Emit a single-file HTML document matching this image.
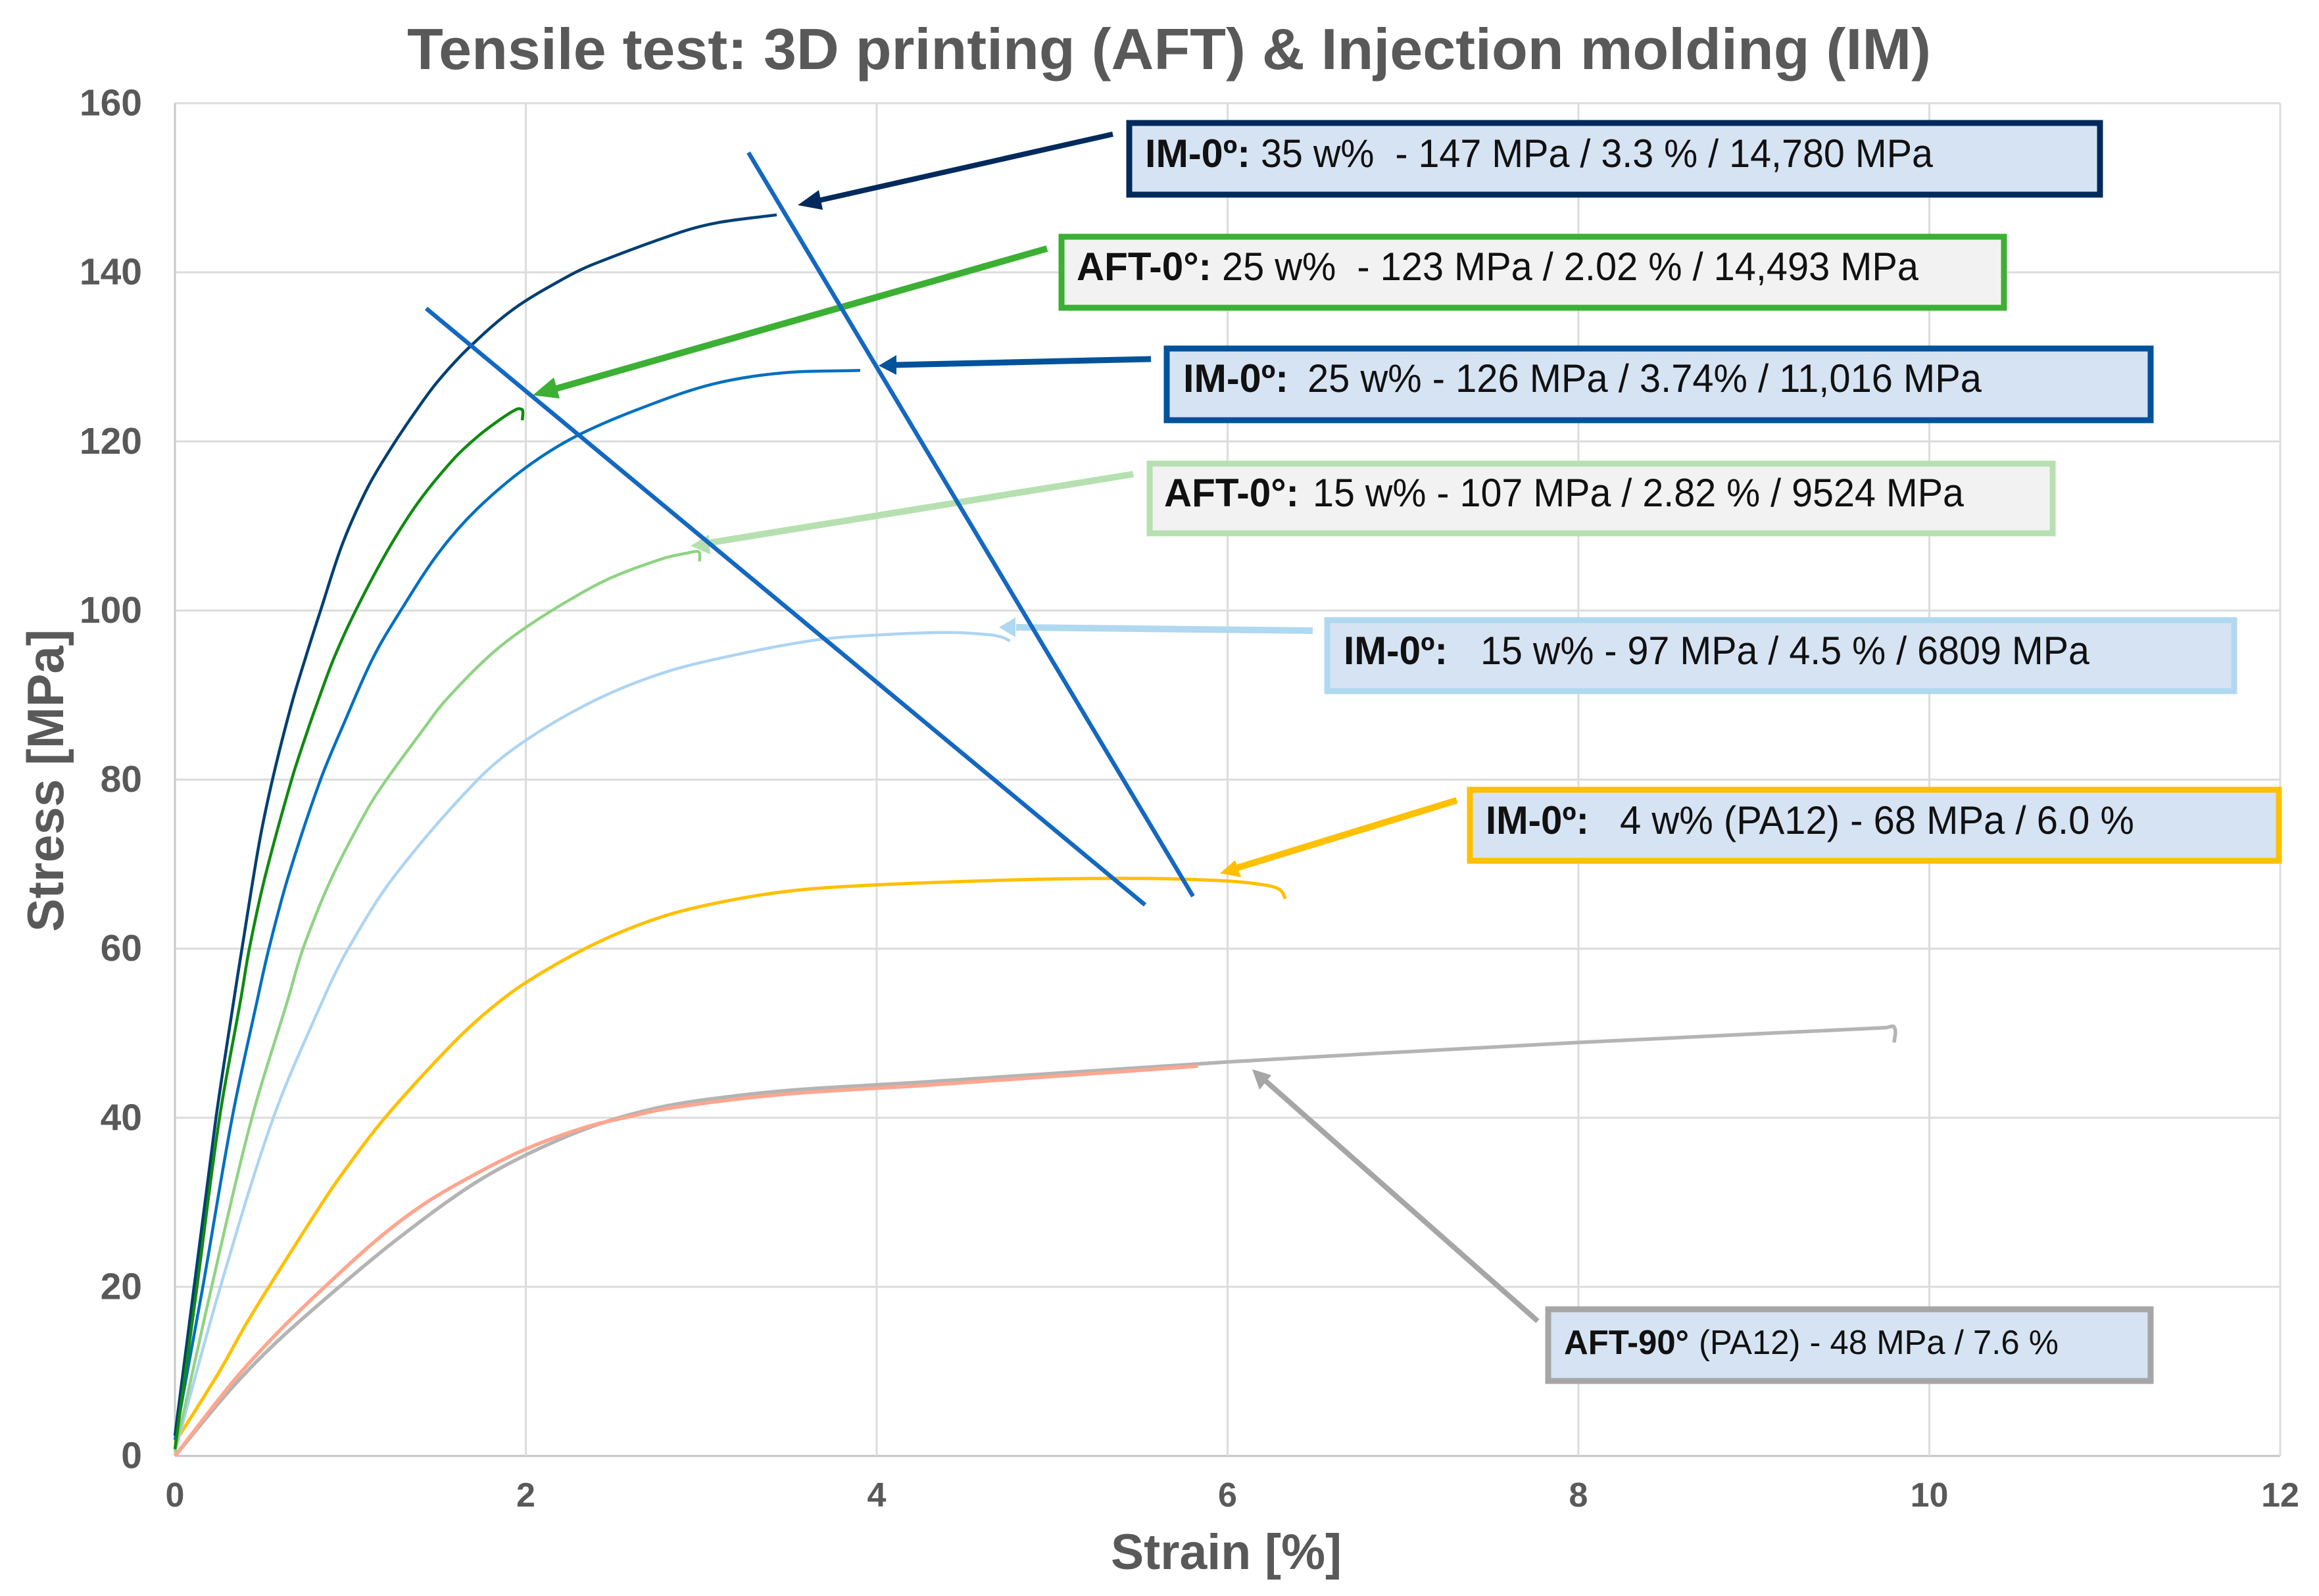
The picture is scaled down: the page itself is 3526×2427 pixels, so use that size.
<!DOCTYPE html>
<html lang="en">
<head>
<meta charset="utf-8">
<title>Tensile test chart</title>
<style>
html,body{margin:0;padding:0;background:#fff;}
svg{display:block;font-family:"Liberation Sans",Arial,sans-serif;}
text{white-space:pre;}
</style>
</head>
<body>
<svg id="chart" xmlns="http://www.w3.org/2000/svg" width="3526" height="2427" viewBox="0 0 3526 2427">
  <rect x="0" y="0" width="3526" height="2427" fill="#ffffff"/>
  <text x="619" y="105" font-size="88" font-weight="700" fill="#595959" textLength="2317" lengthAdjust="spacingAndGlyphs">Tensile test: 3D printing (AFT) &amp; Injection molding (IM)</text>
  <g id="grid"></g>
  <g id="ticks"></g>
  <text x="1689" y="2386" font-size="76" font-weight="700" fill="#595959" textLength="351" lengthAdjust="spacingAndGlyphs">Strain [%]</text>
  <text transform="translate(96,1417) rotate(-90)" font-size="78" font-weight="700" fill="#595959" textLength="460" lengthAdjust="spacingAndGlyphs">Stress [MPa]</text>
  <g id="series" fill="none" stroke-linejoin="round" stroke-linecap="butt"></g>

  <g>
    <g>
      <rect x="1717" y="187" width="1476" height="109" fill="#d6e3f3" stroke="#002a5c" stroke-width="9"/>
      <text x="1741" y="254" font-size="60" fill="#111"><tspan font-weight="700" x="1741" textLength="160" lengthAdjust="spacingAndGlyphs">IM-0º:</tspan><tspan x="1917" textLength="1022" lengthAdjust="spacingAndGlyphs">35 w%  - 147 MPa / 3.3 % / 14,780 MPa</tspan></text>
    </g>
    <g>
      <rect x="1614" y="360" width="1433" height="108" fill="#f2f2f2" stroke="#3cb034" stroke-width="9"/>
      <text x="1637" y="426" font-size="60" fill="#111"><tspan font-weight="700" x="1637" textLength="205" lengthAdjust="spacingAndGlyphs">AFT-0°:</tspan><tspan x="1858" textLength="1059" lengthAdjust="spacingAndGlyphs">25 w%  - 123 MPa / 2.02 % / 14,493 MPa</tspan></text>
    </g>
    <g>
      <rect x="1774" y="530" width="1496" height="109" fill="#d6e3f3" stroke="#00529b" stroke-width="9"/>
      <text x="1799" y="596" font-size="60" fill="#111"><tspan font-weight="700" x="1799" textLength="160" lengthAdjust="spacingAndGlyphs">IM-0º:</tspan><tspan x="1988" textLength="1025" lengthAdjust="spacingAndGlyphs">25 w% - 126 MPa / 3.74% / 11,016 MPa</tspan></text>
    </g>
    <g>
      <rect x="1748" y="705" width="1373" height="106" fill="#f2f2f2" stroke="#b6e0b0" stroke-width="9"/>
      <text x="1770" y="770" font-size="60" fill="#111"><tspan font-weight="700" x="1770" textLength="205" lengthAdjust="spacingAndGlyphs">AFT-0°:</tspan><tspan x="1996" textLength="990" lengthAdjust="spacingAndGlyphs">15 w% - 107 MPa / 2.82 % / 9524 MPa</tspan></text>
    </g>
    <g>
      <rect x="2018" y="943" width="1379" height="108" fill="#d6e3f3" stroke="#b0d8f0" stroke-width="9"/>
      <text x="2043" y="1010" font-size="60" fill="#111"><tspan font-weight="700" x="2043" textLength="158" lengthAdjust="spacingAndGlyphs">IM-0º:</tspan><tspan x="2251" textLength="926" lengthAdjust="spacingAndGlyphs">15 w% - 97 MPa / 4.5 % / 6809 MPa</tspan></text>
    </g>
    <g>
      <rect x="2235" y="1201" width="1230" height="108" fill="#d6e3f3" stroke="#ffc000" stroke-width="9"/>
      <text x="2259" y="1268" font-size="60" fill="#111"><tspan font-weight="700" x="2259" textLength="157" lengthAdjust="spacingAndGlyphs">IM-0º:</tspan><tspan x="2463" textLength="782" lengthAdjust="spacingAndGlyphs">4 w% (PA12) - 68 MPa / 6.0 %</tspan></text>
    </g>
    <g>
      <rect x="2354" y="1991" width="916" height="109" fill="#d6e3f3" stroke="#a6a6a6" stroke-width="9"/>
      <text x="2378" y="2059" font-size="52" fill="#111"><tspan font-weight="700" x="2378" textLength="190" lengthAdjust="spacingAndGlyphs">AFT-90°</tspan><tspan x="2583" textLength="547" lengthAdjust="spacingAndGlyphs">(PA12) - 48 MPa / 7.6 %</tspan></text>
    </g>
  </g>

  <g>
    <g>
      <line x1="1692" y1="204" x2="1240" y2="306" stroke="#002a5c" stroke-width="8"/>
      <polygon points="1213,312 1245,289 1251,319" fill="#002a5c"/>
    </g>
    <g>
      <line x1="1592" y1="378" x2="835" y2="594" stroke="#3cb034" stroke-width="10"/>
      <polygon points="810,601 842,574 851,606" fill="#3cb034"/>
    </g>
    <g>
      <line x1="1750" y1="546" x2="1360" y2="555" stroke="#00529b" stroke-width="9"/>
      <polygon points="1336,556 1363,540 1363,570" fill="#00529b"/>
    </g>
    <g>
      <line x1="1723" y1="721" x2="1075" y2="826" stroke="#b6e0b0" stroke-width="10"/>
      <polygon points="1050,830 1078,813 1080,843" fill="#b6e0b0"/>
    </g>
    <g>
      <line x1="1996" y1="959" x2="1545" y2="954" stroke="#b0d8f0" stroke-width="10"/>
      <polygon points="1519,954 1544,939 1544,969" fill="#b0d8f0"/>
    </g>
    <g>
      <line x1="2215" y1="1217" x2="1880" y2="1320" stroke="#ffc000" stroke-width="10"/>
      <polygon points="1855,1328 1878,1308 1887,1334" fill="#ffc000"/>
    </g>
    <g>
      <line x1="2338" y1="2009" x2="1920" y2="1640" stroke="#a6a6a6" stroke-width="8"/>
      <polygon points="1904,1626 1933,1635 1915,1657" fill="#a6a6a6"/>
    </g>
  </g>

  <g>
    <line x1="648" y1="469" x2="1741" y2="1376" stroke="#1468c0" stroke-width="6.5"/>
    <line x1="1138" y1="232" x2="1814" y2="1363" stroke="#1468c0" stroke-width="6.5"/>
  </g>
</svg>
<script>
// Axis ticks
const xTickValues = [0, 2, 4, 6, 8, 10, 12];
const yTickValues = [0, 20, 40, 60, 80, 100, 120, 140, 160];

// IM-0° 35 w%
const strainIm35 = [0, 0.109, 0.234, 0.34, 0.382, 0.482, 0.556, 0.663, 0.744, 0.83, 0.957, 1.10, 1.244, 1.387, 1.502, 1.681, 1.933, 2.22, 2.39, 2.89, 3.1, 3.43];
const stressIm35 = [2.4, 20, 40, 54.5, 60, 72.7, 80, 88.8, 94.4, 100, 108, 114.6, 119.6, 124, 127.2, 131.2, 135.7, 139.3, 141, 144.8, 145.9, 146.8];
// AFT-0° 25 w%
const strainAft25 = [0, 0.1255, 0.254, 0.375, 0.424, 0.5125, 0.665, 0.756, 0.81, 0.907, 1.03, 1.215, 1.387, 1.588, 1.732, 1.861, 1.947, 1.976, 1.983, 1.98];
const stressAft25 = [0.8, 20, 40, 54, 60, 68.4, 80, 85.8, 89, 94.4, 100, 107.2, 112.8, 117.9, 120.7, 122.7, 123.8, 123.8, 123.5, 122.5];
// IM-0° 25 w%
const strainIm25 = [0, 0.159, 0.326, 0.47, 0.5355, 0.644, 0.83, 0.9625, 1.129, 1.287, 1.502, 1.717, 2, 2.29, 2.69, 3.07, 3.46, 3.906];
const stressIm25 = [1.9, 20, 40, 54, 60, 68.4, 80, 86.6, 94.4, 100, 106.8, 111.9, 116.9, 120.65, 124.2, 126.8, 128.1, 128.4];
// AFT-0° 15 w%
const strainAft15 = [0, 0.209, 0.4385, 0.644, 0.73, 0.894, 1.10, 1.206, 1.425, 1.535, 1.79, 2, 2.29, 2.5, 2.79, 2.92, 2.975, 2.99, 2.99];
const stressAft15 = [0.5, 20, 40, 54, 60, 68.4, 76.6, 80, 86.2, 89.2, 94.6, 98, 101.75, 104, 106.2, 106.8, 107, 106.8, 105.8];
// IM-0° 15 w%
const strainIm15 = [0, 0.259, 0.561, 0.845, 0.9875, 1.248, 1.726, 2, 2.396, 2.78, 3.16, 3.65, 4, 4.41, 4.66, 4.72, 4.76];
const stressIm15 = [0.5, 20, 40, 54, 60, 68.5, 80, 84.65, 89.4, 92.6, 94.6, 96.5, 97.1, 97.4, 97.1, 96.8, 96.4];
// IM-0° 4 w% (PA12)
const strainIm4 = [0, 0.251, 0.40, 0.5355, 0.82, 0.954, 1.197, 1.556, 1.765, 2, 2.396, 2.78, 3.16, 3.54, 4, 4.9, 5.55, 6, 6.22, 6.3, 6.33];
const stressIm4 = [1.56, 9.9, 15.4, 20, 29.3, 33.4, 40, 48.2, 52.3, 56, 60.6, 63.8, 65.7, 66.9, 67.55, 68.2, 68.3, 68, 67.5, 66.95, 65.9];
// Salmon PA12 curve
const strainSalmon = [0, 0.335, 0.586, 0.854, 1.17, 1.42, 1.674, 2, 2.343, 2.624, 2.78, 3.16, 3.54, 4, 4.25, 5.83];
const stressSalmon = [0, 8.9, 14.6, 20, 25.9, 29.8, 32.9, 36.3, 38.9, 40.3, 41, 42.1, 42.9, 43.5, 43.8, 46.1];
// AFT-90° (PA12)
const strainAft90 = [0, 0.335, 0.586, 0.937, 1.255, 1.674, 2, 2.396, 2.78, 3.16, 3.54, 4, 4.25, 6, 8, 9.75, 9.8, 9.8];
const stressAft90 = [0, 8.3, 13.6, 20, 25.45, 31.8, 35.6, 39.1, 41.3, 42.5, 43.3, 43.9, 44.2, 46.6, 48.9, 50.65, 50.7, 48.9];

const NS = 'http://www.w3.org/2000/svg';
const plotLeft = 266, plotRight = 3467, plotTop = 157, plotBottom = 2214;
const xScale = v => plotLeft + (v / 12) * (plotRight - plotLeft);
const yScale = v => plotBottom - (v / 160) * (plotBottom - plotTop);

function spline(xs, ys) {
  const p = xs.map((x, i) => [xScale(x), yScale(ys[i])]);
  const n = p.length;
  const tangent = i => {
    const a = p[Math.max(0, i - 1)], b = p[Math.min(n - 1, i + 1)];
    const dx = b[0] - a[0], dy = b[1] - a[1];
    const len = Math.hypot(dx, dy) || 1;
    return [dx / len, dy / len];
  };
  let d = 'M' + p[0][0].toFixed(1) + ' ' + p[0][1].toFixed(1);
  for (let i = 0; i < n - 1; i++) {
    const seg = Math.hypot(p[i + 1][0] - p[i][0], p[i + 1][1] - p[i][1]) / 3;
    const t1 = tangent(i), t2 = tangent(i + 1);
    d += 'C' + (p[i][0] + t1[0] * seg).toFixed(1) + ' ' + (p[i][1] + t1[1] * seg).toFixed(1) + ' ' +
      (p[i + 1][0] - t2[0] * seg).toFixed(1) + ' ' + (p[i + 1][1] - t2[1] * seg).toFixed(1) + ' ' +
      p[i + 1][0].toFixed(1) + ' ' + p[i + 1][1].toFixed(1);
  }
  return d;
}

const grid = document.getElementById('grid');
const ticks = document.getElementById('ticks');
const seriesGroup = document.getElementById('series');

yTickValues.forEach(v => {
  const line = document.createElementNS(NS, 'line');
  
  
  line.setAttribute('x1', plotLeft);
  line.setAttribute('x2', plotRight);
  line.setAttribute('y1', yScale(v));
  line.setAttribute('y2', yScale(v));
  line.setAttribute('stroke', v === 0 ? '#c4c4c4' : '#dcdcdc');
  line.setAttribute('stroke-width', '3');
  grid.appendChild(line);
  const label = document.createElementNS(NS, 'text');
  
  
  label.setAttribute('x', 216);
  label.setAttribute('y', yScale(v) + 18.5);
  label.setAttribute('text-anchor', 'end');
  label.setAttribute('font-size', '57');
  label.setAttribute('font-weight', '700');
  label.setAttribute('fill', '#595959');
  label.textContent = v;
  ticks.appendChild(label);
});

xTickValues.forEach(v => {
  const line = document.createElementNS(NS, 'line');
  
  
  line.setAttribute('x1', xScale(v));
  line.setAttribute('x2', xScale(v));
  line.setAttribute('y1', plotTop);
  line.setAttribute('y2', plotBottom);
  line.setAttribute('stroke', v === 0 ? '#c8c8c8' : '#dcdcdc');
  line.setAttribute('stroke-width', '3');
  grid.appendChild(line);
  const label = document.createElementNS(NS, 'text');
  
  
  label.setAttribute('x', xScale(v));
  label.setAttribute('y', 2291);
  label.setAttribute('text-anchor', 'middle');
  label.setAttribute('font-size', '52');
  label.setAttribute('font-weight', '700');
  label.setAttribute('fill', '#595959');
  label.textContent = v;
  ticks.appendChild(label);
});

function drawSeries(name, xs, ys, color, width) {
  const path = document.createElementNS(NS, 'path');
  
  
  path.setAttribute('d', spline(xs, ys));
  path.setAttribute('stroke', color);
  path.setAttribute('stroke-width', width);
  seriesGroup.appendChild(path);
}

drawSeries('series-aft-90', strainAft90, stressAft90, '#b4b4b4', 5.5);
drawSeries('series-pa12-salmon', strainSalmon, stressSalmon, '#ffa68f', 5.5);
drawSeries('series-im-4', strainIm4, stressIm4, '#ffc000', 5);
drawSeries('series-im-15', strainIm15, stressIm15, '#add4f2', 4.5);
drawSeries('series-aft-15', strainAft15, stressAft15, '#8fd383', 4.5);
drawSeries('series-im-25', strainIm25, stressIm25, '#0070c0', 4.5);
drawSeries('series-im-35', strainIm35, stressIm35, '#003f72', 4.5);
drawSeries('series-aft-25', strainAft25, stressAft25, '#108a10', 4.5);
</script>
</body>
</html>
